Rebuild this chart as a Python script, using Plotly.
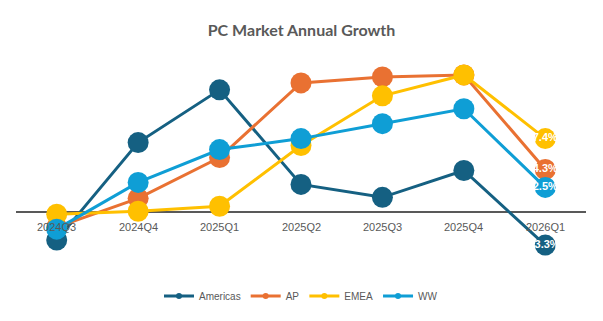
import plotly.graph_objects as go

quarters = ["2024Q3", "2024Q4", "2025Q1", "2025Q2", "2025Q3", "2025Q4", "2026Q1"]
americas = [-2.8, 7.0, 12.3, 2.8, 1.5, 4.2, -3.3]
ap = [-1.5, 1.4, 5.5, 13.0, 13.6, 13.8, 4.3]
emea = [-0.2, 0.1, 0.6, 6.7, 11.7, 13.8, 7.4]
ww = [-1.7, 3.0, 6.3, 7.4, 8.9, 10.4, 2.5]

series = [("Americas", americas, "#156082"),
          ("AP", ap, "#E97132"),
          ("EMEA", emea, "#FFC000"),
          ("WW", ww, "#0F9ED5")]

fig = go.Figure()
for name, vals, color in series:
    labels = [""] * (len(vals) - 1) + [f"<b>{vals[-1]:.1f}%</b>"]
    fig.add_trace(go.Scatter(
        x=quarters, y=vals, mode="lines+markers+text", name=name,
        line=dict(color=color, width=3),
        marker=dict(color=color, size=21),
        text=labels, textposition="middle center",
        textfont=dict(color="white", size=11, family="Liberation Sans"),
        showlegend=False, legendgroup=name, cliponaxis=False))
for name, vals, color in series:
    fig.add_trace(go.Scatter(
        x=[None], y=[None], mode="lines+markers", name=name,
        line=dict(color=color, width=3),
        marker=dict(color=color, size=6),
        showlegend=True, legendgroup=name))

for q in quarters:
    fig.add_annotation(x=q, y=0, text=q, showarrow=False, yshift=-15,
                       font=dict(color="#595959", size=11, family="Liberation Sans"))

fig.update_layout(
    width=603, height=321,
    paper_bgcolor="white", plot_bgcolor="white",
    margin=dict(l=16, r=17, t=60, b=56),
    title=dict(text="<b>PC Market Annual Growth</b>", x=0.5, xanchor="center",
               y=0.905, yanchor="middle",
               font=dict(size=16, color="#595959", family="Lato")),
    xaxis=dict(type="category", range=[-0.5, 6.5], showticklabels=False,
               showgrid=False, zeroline=False, showline=False, ticks=""),
    yaxis=dict(range=[-5.2, 15.3], showticklabels=False, showgrid=False,
               zeroline=True, zerolinecolor="#595959", zerolinewidth=1.5,
               showline=False, ticks=""),
    legend=dict(orientation="h", x=0.5, xanchor="center", y=-0.151, yanchor="middle",
                font=dict(size=10, color="#595959", family="Liberation Sans"),
                itemwidth=30),
)

fig.write_html("out.html")
